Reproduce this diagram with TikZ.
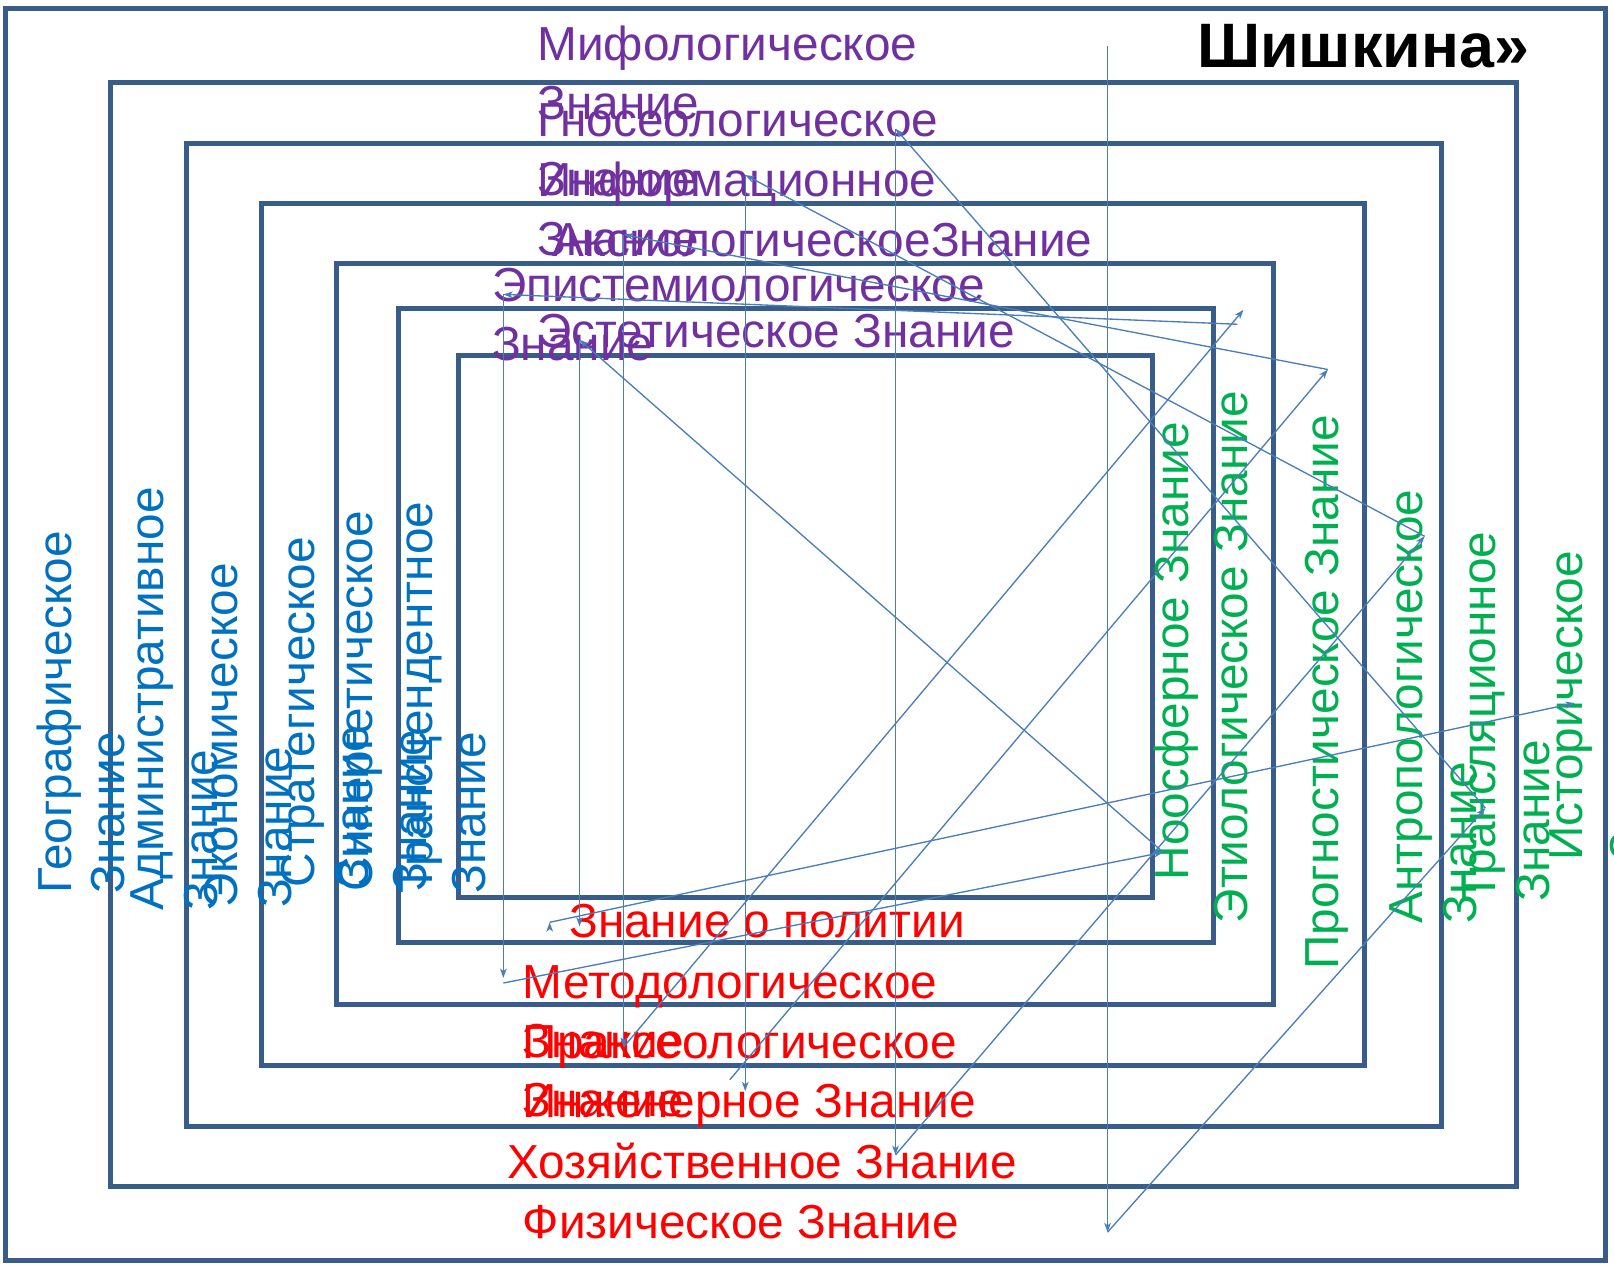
\documentclass[tikz,border=0pt]{standalone}
\usepackage{fontspec}
\setmainfont{Liberation Sans}
\usetikzlibrary{arrows.meta}
\definecolor{frameblue}{RGB}{56,93,138}
\definecolor{linkblue}{RGB}{74,126,187}
\definecolor{kpurple}{RGB}{112,48,160}
\definecolor{kred}{RGB}{255,0,0}
\definecolor{kblue}{RGB}{0,112,192}
\definecolor{kgreen}{RGB}{0,176,80}
\begin{document}
\begin{tikzpicture}[x=0.5pt, y=-0.5pt,
		frame/.style={draw=frameblue, line width=2.4pt},
		link/.style={linkblue, line width=0.65pt, -{Stealth[length=4.5pt, width=3.2pt, inset=1.2pt]}},
		kn/.style={inner sep=0mm, outer sep=0mm, anchor=base west, align=left},
		flat/.style={kn, font=\fontsize{23.2}{28.5}\selectfont},
		tall/.style={kn, rotate=90, font=\fontsize{23.2}{26}\selectfont}]
		\useasboundingbox (0,0) rectangle (1568,1233);
		\draw[frame] (5,8) rectangle (1560,1225);
		\draw[frame] (107,80) rectangle (1473,1153);
		\draw[frame] (181,139) rectangle (1400,1094);
		\draw[frame] (254,198) rectangle (1326,1035);
		\draw[frame] (327,256) rectangle (1237,976);
		\draw[frame] (387,300) rectangle (1179,916);
		\draw[frame] (445,345) rectangle (1120,872);
		\node[kn, font=\bfseries\fontsize{30.5}{36}\selectfont] at (1163,66) (title) {Шишкина»};
		\node[flat, text=kpurple] at (522,116) (mif) {Мифологическое\\Знание};
		\node[flat, text=kpurple] at (522,190) (gno) {Гносеологическое\\Знание};
		\node[flat, text=kpurple] at (522,248) (inf) {Информационное\\Знание};
		\node[flat, text=kpurple] at (537,249) (aks) {АксиологическоеЗнание};
		\node[flat, text=kpurple] at (478,350) (epi) {Эпистемиологическое\\Знание};
		\node[flat, text=kpurple] at (522,338) (est) {Эстетическое Знание};
		\node[flat, text=kred] at (553,911) (pol) {Знание о политии};
		\node[flat, text=kred] at (508,1027) (met) {Методологическое\\Знание};
		\node[flat, text=kred] at (508,1085) (pra) {Праксеологическое\\Знание};
		\node[flat, text=kred] at (508,1086) (inz) {Инженерное Знание};
		\node[flat, text=kred] at (493,1145) (hoz) {Хозяйственное Знание};
		\node[flat, text=kred] at (508,1203) (fiz) {Физическое Знание};
		\node[tall, text=kblue] at (121,868) (geo) {Географическое\\Знание};
		\node[tall, text=kblue] at (211,885) (adm) {Административное\\Знание};
		\node[tall, text=kblue] at (283,882) (eko) {Экономическое\\Знание};
		\node[tall, text=kblue] at (358,862) (str) {Стратегическое\\Знание};
		\node[tall, text=kblue] at (414,866) (sin) {Синергетическое\\Знание};
		\node[tall, text=kblue] at (472,868) (tra) {Трансцендентное\\Знание};
		\node[tall, text=kgreen] at (1155,855) (noo) {Ноосферное Знание};
		\node[tall, text=kgreen] at (1212,897) (eti) {Этиологическое Знание};
		\node[tall, text=kgreen] at (1300,942) (pro) {Прогностическое Знание};
		\node[tall, text=kgreen] at (1434,897) (ant) {Антропологическое\\Знание};
		\node[tall, text=kgreen] at (1505,876) (trl) {Трансляционное\\Знание};
		\node[tall, text=kgreen, font=\fontsize{23.2}{30}\selectfont] at (1597,836) (ist) {Историческое\\Знание};
		\coordinate (c0) at (1076,45);
		\coordinate (c1) at (1076,1197);
		\coordinate (c2) at (1443,785);
		\coordinate (c3) at (870,125);
		\coordinate (c4) at (870,1122);
		\coordinate (c5) at (1384,521);
		\coordinate (c6) at (724,170);
		\coordinate (c7) at (724,1060);
		\coordinate (c8) at (709,1049);
		\coordinate (c9) at (1290,359);
		\coordinate (c10) at (606,228);
		\coordinate (c11) at (606,1017);
		\coordinate (c12) at (1208,301);
		\coordinate (c13) at (1202,315);
		\coordinate (c14) at (489,286);
		\coordinate (c15) at (489,950);
		\coordinate (c16) at (489,955);
		\coordinate (c17) at (1130,828);
		\coordinate (c18) at (563,330);
		\coordinate (c19) at (563,900);
		\coordinate (c20) at (534,896);
		\coordinate (c21) at (1530,683);
		\draw[link] (c0) edge (c1) (c1) edge (c2) (c2) edge (c3) (c3) edge (c4) (c4) edge (c5)
		(c5) edge (c6) (c6) edge (c7) (c8) edge (c9) (c9) edge (c10) (c10) edge (c11)
		(c11) edge (c12) (c13) edge (c14) (c14) edge (c15) (c16) edge (c17) (c17) edge (c18)
		(c18) edge (c19) (c20) edge (c21);
	\end{tikzpicture}
\end{document}
